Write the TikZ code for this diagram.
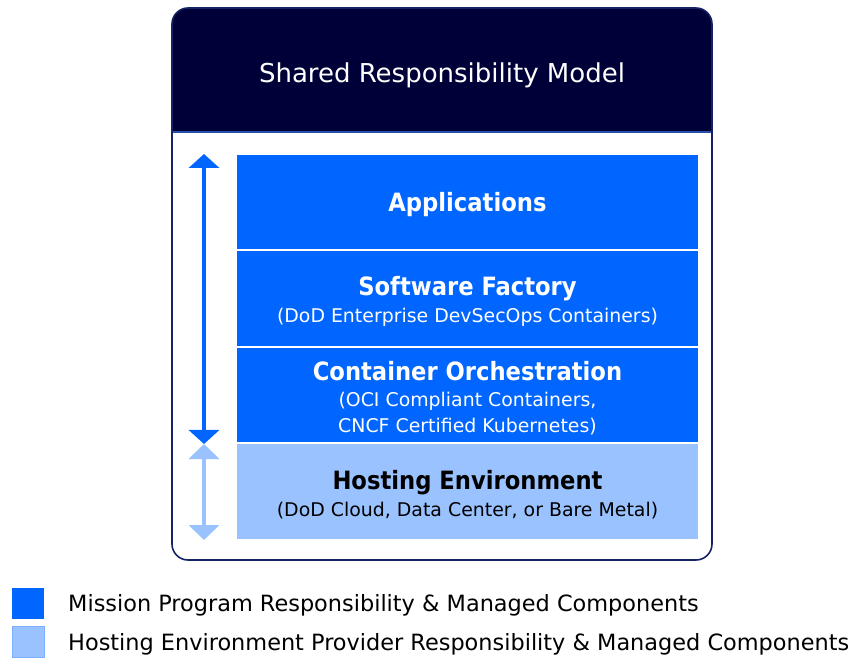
\documentclass[tikz,border=0pt]{standalone}
\usepackage{fontspec}
\setmainfont{DejaVu Sans}
\newfontfamily\hdfont{DejaVu Sans Condensed}
\usetikzlibrary{arrows.meta}
\definecolor{navy}{RGB}{0,0,56}
\definecolor{framec}{RGB}{20,35,100}
\definecolor{hdrline}{RGB}{40,80,170}
\definecolor{mission}{RGB}{0,102,255}
\definecolor{hosting}{RGB}{153,194,255}
\tikzset{
  block/.style={minimum width=461pt, inner sep=0pt},
  lbl/.style={inner sep=0pt, align=center, yshift=-3pt, font=\fontsize{18.9}{25.5}\selectfont},
  legsq/.style={minimum width=32pt, minimum height=31pt, inner sep=0pt},
  legtxt/.style={anchor=base west, inner sep=0pt, font=\fontsize{22.4}{26}\selectfont},
}
\newcommand{\hd}[1]{{\hdfont\fontsize{25.2}{28}\selectfont\bfseries #1}}
\begin{document}
\begin{tikzpicture}[x=1pt,y=-1pt]
\useasboundingbox (0,0) rectangle (852,660);
% frame
\begin{scope}
\clip[rounded corners=16pt] (172,8) rectangle (712,560);
\fill[navy] (172,8) rectangle (712,132);
\end{scope}
\draw[hdrline, line width=1.2pt] (172,132) -- (712,132);
\draw[framec, line width=1.6pt, rounded corners=16pt] (172,8) rectangle (712,560);
\node[text=white, anchor=base, inner sep=0pt, font=\fontsize{26}{30}\selectfont] (title) at (442,83) {Shared Responsibility Model};
% blocks
\node[block, fill=mission, minimum height=94pt] (app) at (467.5,202) {};
\node[block, fill=mission, minimum height=95pt] (sf) at (467.5,298.5) {};
\node[block, fill=mission, minimum height=94pt] (co) at (467.5,395) {};
\node[block, fill=hosting, minimum height=95pt] (he) at (467.5,491.5) {};
\node[lbl, text=white] (appt) at (app.center) {\hd{Applications}};
\node[lbl, text=white] (sft) at (sf.center) {\hd{Software Factory}\\[1pt](DoD Enterprise DevSecOps Containers)};
\node[lbl, text=white] (cot) at (co.center) {\hd{Container Orchestration}\\[1pt](OCI Compliant Containers,\\CNCF Certified Kubernetes)};
\node[lbl, text=black] (het) at (he.center) {\hd{Hosting Environment}\\[1pt](DoD Cloud, Data Center, or Bare Metal)};
% arrows
\coordinate (atop) at (204,154);
\coordinate (amid) at (204,444);
\coordinate (abot) at (204,540);
\draw[mission, line width=4pt, {Triangle[width=30pt,length=14pt]}-{Triangle[width=30pt,length=14pt]}] (atop) -- (amid);
\draw[hosting, line width=4pt, {Triangle[width=30pt,length=15pt]}-{Triangle[width=30pt,length=15pt]}] (amid) -- (abot);
% legend
\node[legsq, fill=mission] (lg1) at (28,603) {};
\node[legsq, fill=hosting, draw=hosting!80!mission, line width=0.6pt] (lg2) at (28,642) {};
\node[legtxt] (lt1) at (68,611) {Mission Program Responsibility \& Managed Components};
\node[legtxt] (lt2) at (68,650) {Hosting Environment Provider Responsibility \& Managed Components};
\end{tikzpicture}
\end{document}
